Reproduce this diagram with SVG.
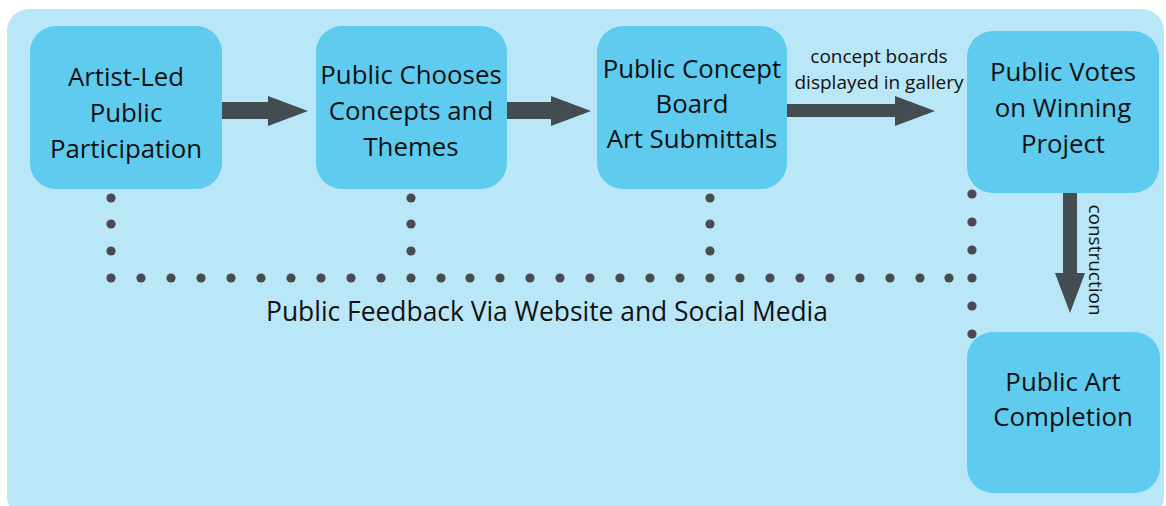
<svg xmlns="http://www.w3.org/2000/svg" width="1166" height="506" viewBox="0 0 1166 506">
<style>
.box{fill:#5FCBEE;}
.t{font-family:"Open Sans","Liberation Sans",sans-serif;font-size:25.8px;fill:#111;text-anchor:middle;}
.s{font-family:"Open Sans","Liberation Sans",sans-serif;font-size:19px;fill:#111;text-anchor:middle;}
.arrow{fill:#434D52;}
.dot{fill:#4A4A50;}
</style>
<defs>
<circle id="d" r="4.6" class="dot"/>
</defs>
<rect x="0" y="0" width="1166" height="506" fill="#ffffff"/>
<rect x="7" y="9" width="1157" height="510" rx="22" fill="#B9E7F7"/>

<g id="connectors">
<g id="a1" class="arrow"><polygon points="222,102 268,102 268,96 308,111 268,126 268,119 222,119"/></g>
<g id="a2" class="arrow"><polygon points="507,102 551,102 551,96 591,111 551,126 551,119 507,119"/></g>
<g id="a3" class="arrow"><polygon points="787,104 895,104 895,96 935,111 895,126 895,117 787,117"/></g>
<g id="a4" class="arrow"><polygon points="1063,193 1077,193 1077,273 1085,273 1070,313 1055,273 1063,273"/></g>
<g id="feedback-dots">
<use href="#d" x="111" y="198"/><use href="#d" x="111" y="224"/><use href="#d" x="111" y="251"/>
<use href="#d" x="411" y="198"/><use href="#d" x="411" y="224"/><use href="#d" x="411" y="251"/>
<use href="#d" x="710" y="198"/><use href="#d" x="710" y="224"/><use href="#d" x="710" y="251"/>
<use href="#d" x="972" y="194"/><use href="#d" x="972" y="222"/><use href="#d" x="972" y="250"/><use href="#d" x="972" y="278"/><use href="#d" x="972" y="306"/><use href="#d" x="972" y="334"/>
<use href="#d" x="111" y="278"/><use href="#d" x="141" y="278"/><use href="#d" x="171" y="278"/><use href="#d" x="201" y="278"/><use href="#d" x="231" y="278"/><use href="#d" x="261" y="278"/><use href="#d" x="291" y="278"/><use href="#d" x="321" y="278"/><use href="#d" x="351" y="278"/><use href="#d" x="381" y="278"/><use href="#d" x="411" y="278"/><use href="#d" x="441" y="278"/><use href="#d" x="470" y="278"/><use href="#d" x="500" y="278"/><use href="#d" x="530" y="278"/><use href="#d" x="560" y="278"/><use href="#d" x="590" y="278"/><use href="#d" x="620" y="278"/><use href="#d" x="650" y="278"/><use href="#d" x="680" y="278"/><use href="#d" x="710" y="278"/><use href="#d" x="740" y="278"/><use href="#d" x="770" y="278"/><use href="#d" x="800" y="278"/><use href="#d" x="830" y="278"/><use href="#d" x="860" y="278"/><use href="#d" x="890" y="278"/><use href="#d" x="920" y="278"/><use href="#d" x="949" y="278"/>
</g>
<text class="s" x="879" y="63">concept boards</text>
<text class="s" x="879" y="89">displayed in gallery</text>
<text class="s" transform="translate(1089,260) rotate(90)">construction</text>
<text class="t" x="547" y="321" style="font-size:26.4px">Public Feedback Via Website and Social Media</text>
</g>

<g id="n1">
<rect class="box" x="30" y="26" width="192" height="163" rx="26"/>
<text class="t" x="126" y="86">Artist-Led</text>
<text class="t" x="126" y="122">Public</text>
<text class="t" x="126" y="158">Participation</text>
</g>
<g id="n2">
<rect class="box" x="316" y="26" width="191" height="163" rx="26"/>
<text class="t" x="411" y="84">Public Chooses</text>
<text class="t" x="411" y="120">Concepts and</text>
<text class="t" x="411" y="156">Themes</text>
</g>
<g id="n3">
<rect class="box" x="597" y="26" width="190" height="163" rx="26"/>
<text class="t" x="692" y="78">Public Concept</text>
<text class="t" x="692" y="113">Board</text>
<text class="t" x="692" y="148">Art Submittals</text>
</g>
<g id="n4">
<rect class="box" x="967" y="31" width="192" height="162" rx="26"/>
<text class="t" x="1063" y="81">Public Votes</text>
<text class="t" x="1063" y="117">on Winning</text>
<text class="t" x="1063" y="153">Project</text>
</g>
<g id="n5">
<rect class="box" x="967" y="332" width="193" height="161" rx="26"/>
<text class="t" x="1063" y="391">Public Art</text>
<text class="t" x="1063" y="426">Completion</text>
</g>
</svg>
